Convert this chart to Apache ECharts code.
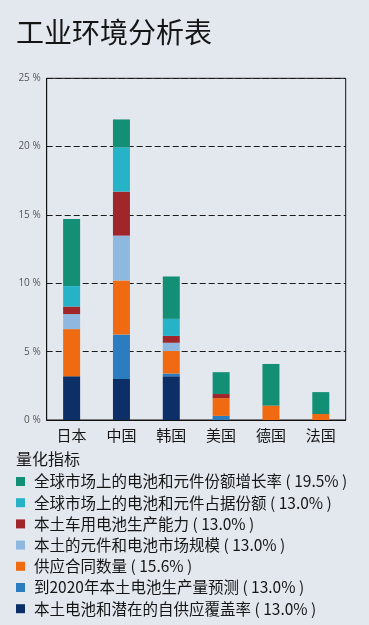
<!DOCTYPE html>
<html><head><meta charset="utf-8">
<script src="https://cdn.jsdelivr.net/npm/echarts@6/dist/echarts.min.js"></script>
<style>html,body{margin:0;padding:0;background:#e3e8ef;}#c{width:369px;height:625px;}</style>
</head><body><div id="c"></div>
<script>
const categories = ['日本', '中国', '韩国', '美国', '德国', '法国'];
// series listed bottom-to-top of the stack
const seriesNames = [
  '本土电池和潜在的自供应覆盖率 ( 13.0% )',
  '到2020年本土电池生产量预测 ( 13.0% )',
  '供应合同数量 ( 15.6% )',
  '本土的元件和电池市场规模 ( 13.0% )',
  '本土车用电池生产能力 ( 13.0% )',
  '全球市场上的电池和元件占据份额 ( 13.0% )',
  '全球市场上的电池和元件份额增长率 ( 19.5% )'
];
const navyVals = [3.2, 3.0, 3.2, 0, 0, 0];
const steelVals = [0, 3.25, 0.2, 0.3, 0, 0];
const orangeVals = [3.45, 3.96, 1.65, 1.3, 1.05, 0.44];
const lightBlueVals = [1.1, 3.28, 0.6, 0, 0, 0];
const darkRedVals = [0.55, 3.22, 0.5, 0.3, 0, 0];
const cyanVals = [1.5, 3.23, 1.25, 0, 0, 0];
const tealVals = [4.9, 2.05, 3.1, 1.6, 3.05, 1.6];
const yTicks = [0, 5, 10, 15, 20, 25];

const seriesValues = [navyVals, steelVals, orangeVals, lightBlueVals, darkRedVals, cyanVals, tealVals];
const colors = ['#0c2f68', '#2b7dbf', '#ef6a10', '#8fb8e0', '#a1262b', '#27b3c7', '#128f74'];

const chart = echarts.init(document.getElementById('c'), null, {renderer: 'canvas'});
const cjk = '"Noto Sans CJK SC", "Noto Sans", sans-serif';
chart.setOption({
  backgroundColor: '#e3e8ef',
  animation: false,
  color: colors,
  textStyle: {fontFamily: cjk},
  title: [
    {text: '工业环境分析表', left: 16, top: 18, padding: 0,
     textStyle: {fontSize: 28, fontWeight: 'normal', color: '#151515', fontFamily: cjk}},
    {text: '量化指标', left: 16, top: 451, padding: 0,
     textStyle: {fontSize: 16, fontWeight: 'normal', color: '#151515', fontFamily: cjk}}
  ],
  legend: {
    orient: 'vertical', left: 16, top: 473.5, padding: 0,
    icon: 'rect', itemWidth: 9, itemHeight: 9, itemGap: 5.2,
    data: seriesNames.slice().reverse(),
    selectedMode: false,
    textStyle: {fontSize: 15.5, color: '#151515', lineHeight: 16, fontFamily: cjk, padding: [0, 0, 0, 4]}
  },
  grid: {left: 46.7, right: 23.3, top: 78.3, bottom: 205, show: true, borderColor: '#111', borderWidth: 1, containLabel: false},
  xAxis: {
    type: 'category', data: categories,
    axisLine: {lineStyle: {color: '#111', width: 1}},
    axisTick: {show: false},
    axisLabel: {fontSize: 15, color: '#151515', margin: 8, fontFamily: cjk}
  },
  yAxis: {
    type: 'value', min: 0, max: 25, interval: 5,
    axisLine: {show: true, lineStyle: {color: '#111'}},
    axisTick: {show: false},
    axisLabel: {fontSize: 10, color: '#555', margin: 6, formatter: v => yTicks.includes(v) ? v + ' %' : '', fontFamily: '"Open Sans", sans-serif'},
    splitLine: {show: true, lineStyle: {color: '#1a1a1a', type: [6, 3], width: 1}}
  },
  series: seriesNames.map((name, i) => ({
    name, type: 'bar', stack: 'all', barWidth: 17,
    data: seriesValues[i],
    itemStyle: {color: colors[i]}
  }))
});
</script></body></html>
